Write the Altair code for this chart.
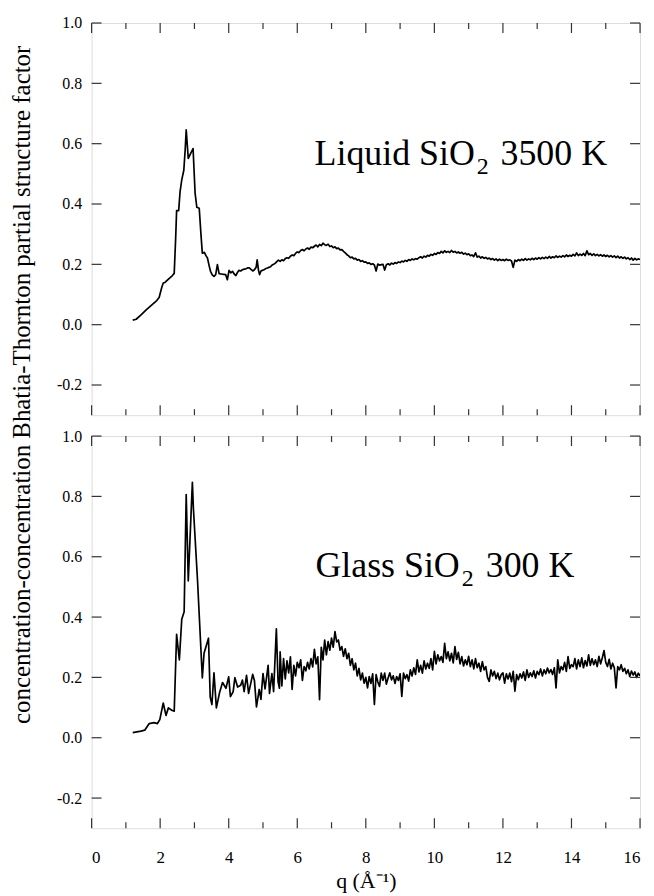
import altair as alt
import pandas as pd

SERIF = "Liberation Serif, Times New Roman, Times, serif"

# ---------------- data ----------------
# Liquid SiO2 3500 K : low-q part (irregular sampling)
Q_LIQ_HEAD = [1.20, 1.30, 1.45, 1.60, 1.75, 1.90, 1.97, 2.05, 2.09, 2.14, 2.25, 2.35, 2.41, 2.45,
              2.48, 2.54, 2.58, 2.63, 2.69, 2.73, 2.76, 2.82, 2.88, 2.96, 3.02, 3.07, 3.14, 3.19,
              3.23, 3.29, 3.34, 3.38, 3.43, 3.47, 3.52, 3.57, 3.62, 3.67, 3.72, 3.78, 3.85, 3.91,
              3.96, 4.01, 4.06, 4.11, 4.16, 4.21, 4.26, 4.30, 4.35, 4.40, 4.45, 4.50, 4.55, 4.60,
              4.65, 4.70, 4.75, 4.80, 4.83, 4.87, 4.90, 4.94, 4.98, 5.03, 5.08, 5.13, 5.17, 5.22,
              5.27, 5.31, 5.36, 5.41, 5.45]
S_LIQ_HEAD = [0.015, 0.018, 0.033, 0.050, 0.065, 0.080, 0.090, 0.125, 0.138, 0.140, 0.152, 0.162,
              0.170, 0.280, 0.378, 0.378, 0.440, 0.480, 0.512, 0.580, 0.646, 0.551, 0.565, 0.584,
              0.435, 0.389, 0.386, 0.300, 0.237, 0.240, 0.228, 0.221, 0.195, 0.177, 0.165, 0.160,
              0.166, 0.199, 0.169, 0.168, 0.167, 0.166, 0.149, 0.180, 0.172, 0.177, 0.168, 0.163,
              0.174, 0.180, 0.178, 0.182, 0.184, 0.185, 0.188, 0.188, 0.183, 0.178, 0.182, 0.190,
              0.215, 0.180, 0.166, 0.178, 0.180, 0.182, 0.186, 0.188, 0.190, 0.192, 0.198, 0.200,
              0.204, 0.210, 0.214]
# Liquid: q = 5.50 ... 16.00, step 0.05
S_LIQ_TAIL = [
    0.210, 0.215, 0.212, 0.219, 0.222, 0.220, 0.227, 0.231, 0.229, 0.236,
    0.241, 0.239, 0.246, 0.249, 0.245, 0.251, 0.254, 0.250, 0.257, 0.255,
    0.260, 0.264, 0.258, 0.266, 0.262, 0.270, 0.265, 0.263, 0.267, 0.259,
    0.261, 0.255, 0.258, 0.252, 0.254, 0.248, 0.249, 0.243, 0.238, 0.232,
    0.228, 0.222, 0.224, 0.218, 0.220, 0.214, 0.216, 0.210, 0.212, 0.207,
    0.208, 0.203, 0.205, 0.200, 0.202, 0.198, 0.178, 0.201, 0.197, 0.199,
    0.200, 0.181, 0.199, 0.202, 0.198, 0.204, 0.201, 0.206, 0.203, 0.208,
    0.206, 0.211, 0.208, 0.213, 0.210, 0.216, 0.213, 0.218, 0.215, 0.219,
    0.217, 0.222, 0.225, 0.221, 0.227, 0.224, 0.230, 0.227, 0.233, 0.230,
    0.236, 0.233, 0.239, 0.236, 0.243, 0.238, 0.245, 0.240, 0.243, 0.239,
    0.246, 0.240, 0.243, 0.238, 0.241, 0.237, 0.240, 0.234, 0.237, 0.232,
    0.235, 0.229, 0.231, 0.226, 0.238, 0.224, 0.227, 0.221, 0.225, 0.220,
    0.223, 0.218, 0.221, 0.216, 0.219, 0.214, 0.218, 0.212, 0.217, 0.213,
    0.216, 0.212, 0.217, 0.213, 0.215, 0.211, 0.190, 0.214, 0.210, 0.216,
    0.212, 0.217, 0.213, 0.219, 0.214, 0.218, 0.215, 0.220, 0.216, 0.221,
    0.217, 0.222, 0.218, 0.223, 0.219, 0.224, 0.220, 0.226, 0.221, 0.225,
    0.222, 0.228, 0.223, 0.227, 0.224, 0.229, 0.225, 0.231, 0.226, 0.230,
    0.227, 0.233, 0.228, 0.238, 0.229, 0.234, 0.230, 0.236, 0.229, 0.245,
    0.232, 0.236, 0.230, 0.235, 0.229, 0.233, 0.228, 0.232, 0.227, 0.231,
    0.226, 0.230, 0.225, 0.229, 0.224, 0.228, 0.222, 0.227, 0.221, 0.225,
    0.220, 0.224, 0.218, 0.222, 0.216, 0.221, 0.214, 0.220, 0.215, 0.218,
    0.216]

# Glass SiO2 300 K : low-q part (irregular sampling)
Q_GLS_HEAD = [1.20, 1.44, 1.55, 1.68, 1.82, 1.92, 1.99, 2.09, 2.17, 2.24, 2.34, 2.41, 2.48, 2.56,
              2.63, 2.70, 2.76, 2.82, 2.94, 2.97, 3.09, 3.23, 3.28, 3.41, 3.46, 3.51, 3.57, 3.64,
              3.73, 3.82, 3.92, 4.00, 4.05, 4.13, 4.18, 4.26, 4.35, 4.40, 4.45, 4.52, 4.58, 4.70,
              4.75, 4.81, 4.89, 4.94, 5.00, 5.06, 5.15, 5.19, 5.26, 5.31, 5.39, 5.44, 5.48]
S_GLS_HEAD = [0.017, 0.022, 0.025, 0.047, 0.050, 0.047, 0.060, 0.115, 0.074, 0.099, 0.091, 0.088,
              0.343, 0.258, 0.393, 0.418, 0.806, 0.520, 0.847, 0.760, 0.522, 0.198, 0.280, 0.330,
              0.135, 0.110, 0.215, 0.099, 0.148, 0.183, 0.164, 0.202, 0.136, 0.153, 0.199, 0.168,
              0.174, 0.191, 0.153, 0.207, 0.147, 0.210, 0.190, 0.102, 0.160, 0.127, 0.213, 0.162,
              0.240, 0.147, 0.213, 0.153, 0.361, 0.186, 0.164]
# Glass: q = 5.50 ... 16.00, step 0.05
S_GLS_TAIL = [
    0.285, 0.172, 0.262, 0.195, 0.255, 0.215, 0.268, 0.160, 0.240, 0.205,
    0.250, 0.232, 0.258, 0.190, 0.236, 0.222, 0.250, 0.228, 0.262, 0.235,
    0.293, 0.245, 0.268, 0.126, 0.300, 0.258, 0.324, 0.275, 0.319, 0.290,
    0.330, 0.300, 0.352, 0.318, 0.324, 0.290, 0.302, 0.270, 0.295, 0.262,
    0.280, 0.240, 0.262, 0.225, 0.247, 0.205, 0.230, 0.192, 0.214, 0.181,
    0.200, 0.165, 0.203, 0.180, 0.212, 0.110, 0.209, 0.185, 0.170, 0.214,
    0.190, 0.214, 0.178, 0.198, 0.215, 0.192, 0.205, 0.180, 0.203, 0.190,
    0.212, 0.137, 0.214, 0.196, 0.209, 0.188, 0.225, 0.205, 0.232, 0.210,
    0.258, 0.218, 0.240, 0.214, 0.255, 0.228, 0.247, 0.230, 0.262, 0.225,
    0.286, 0.245, 0.275, 0.255, 0.269, 0.250, 0.313, 0.262, 0.285, 0.255,
    0.280, 0.248, 0.302, 0.260, 0.283, 0.245, 0.269, 0.238, 0.258, 0.242,
    0.270, 0.236, 0.258, 0.228, 0.262, 0.232, 0.247, 0.220, 0.252, 0.225,
    0.236, 0.200, 0.187, 0.225, 0.205, 0.220, 0.196, 0.214, 0.192, 0.209,
    0.215, 0.181, 0.212, 0.195, 0.214, 0.186, 0.220, 0.154, 0.209, 0.192,
    0.212, 0.198, 0.218, 0.190, 0.225, 0.200, 0.215, 0.203, 0.222, 0.198,
    0.220, 0.209, 0.228, 0.205, 0.225, 0.212, 0.231, 0.215, 0.226, 0.210,
    0.232, 0.165, 0.258, 0.215, 0.236, 0.225, 0.250, 0.220, 0.269, 0.230,
    0.242, 0.236, 0.262, 0.228, 0.258, 0.236, 0.265, 0.232, 0.256, 0.238,
    0.275, 0.240, 0.262, 0.242, 0.258, 0.236, 0.270, 0.245, 0.265, 0.289,
    0.250, 0.236, 0.260, 0.228, 0.247, 0.232, 0.165, 0.236, 0.225, 0.242,
    0.220, 0.230, 0.212, 0.225, 0.203, 0.221, 0.208, 0.218, 0.200, 0.214,
    0.205]

TAIL_START = 5.50
TAIL_STEP = 0.05

Y_TICKS = [-0.2, 0.0, 0.2, 0.4, 0.6, 0.8, 1.0]
X_MAJOR = [0, 2, 4, 6, 8, 10, 12, 14, 16]
X_MINOR = [1, 3, 5, 7, 9, 11, 13, 15]

Y_TITLE = "concentration-concentration Bhatia-Thornton partial structure factor"
X_TITLE = "q (Å⁻¹)"

# ---------------- layout / style ----------------
W, H = 551, 394
GAP = 21
MAJ, MIN = 10, 6
TICK_COLOR = "#333333"

xs = alt.Scale(domain=[0, 16], nice=False, zero=False)
ys = alt.Scale(domain=[-0.3, 1.0], nice=False, zero=False)


def make_df(qh, sh, st):
    q = list(qh) + [round(TAIL_START + TAIL_STEP * i, 2) for i in range(len(st))]
    s = list(sh) + list(st)
    return pd.DataFrame({"q": q, "s": s})


def tick_layers():
    ydf = pd.DataFrame({"s": Y_TICKS})
    mj = pd.DataFrame({"q": X_MAJOR})
    mn = pd.DataFrame({"q": X_MINOR})
    rule = dict(color=TICK_COLOR, strokeWidth=1.2)
    yenc = alt.Y("s:Q", scale=ys)
    xenc = alt.X("q:Q", scale=xs)
    return [
        alt.Chart(ydf).mark_rule(**rule).encode(y=yenc, x=alt.value(0), x2=alt.value(MAJ)),
        alt.Chart(ydf).mark_rule(**rule).encode(y=yenc, x=alt.value(W - MAJ), x2=alt.value(W)),
        alt.Chart(mj).mark_rule(**rule).encode(x=xenc, y=alt.value(H), y2=alt.value(H - MAJ)),
        alt.Chart(mj).mark_rule(**rule).encode(x=xenc, y=alt.value(0), y2=alt.value(MAJ)),
        alt.Chart(mn).mark_rule(**rule).encode(x=xenc, y=alt.value(H), y2=alt.value(H - MIN)),
        alt.Chart(mn).mark_rule(**rule).encode(x=xenc, y=alt.value(0), y2=alt.value(MIN)),
    ]


def label_layers(main, sub, tail, pos):
    (q1, v1), (q2, v2), (q3, v3) = pos
    t = dict(font=SERIF, color="black", baseline="alphabetic")
    out = []
    for (qq, vv, txt, al, fs) in [(q1, v1, main, "right", 36), (q2, v2, sub, "left", 24),
                                  (q3, v3, tail, "left", 36)]:
        out.append(
            alt.Chart(pd.DataFrame({"q": [qq], "s": [vv], "t": [txt]}))
            .mark_text(align=al, fontSize=fs, **t)
            .encode(x=alt.X("q:Q", scale=xs), y=alt.Y("s:Q", scale=ys), text="t:N")
        )
    return out


LABEL_EXPR = "replace(format(datum.value, '.1f'), '\u2212', '-')"


def panel(df, labels, bottom):
    if bottom:
        xaxis = alt.Axis(values=X_MAJOR, ticks=False, domain=False, grid=False, labelFont=SERIF,
                         labelFontSize=17, labelColor="black", labelPadding=21, title=X_TITLE,
                         titleFont=SERIF, titleFontSize=22, titleFontWeight="normal",
                         titleColor="black", titlePadding=6)
        yaxis = alt.Axis(values=Y_TICKS, ticks=False, domain=False, grid=False, labelFont=SERIF,
                         labelFontSize=16, labelColor="black", labelPadding=10,
                         labelExpr=LABEL_EXPR, title=None)
    else:
        xaxis = alt.Axis(values=X_MAJOR, ticks=False, domain=False, grid=False, labels=False, title=None)
        yaxis = alt.Axis(values=Y_TICKS, ticks=False, domain=False, grid=False, labelFont=SERIF,
                         labelFontSize=16, labelColor="black", labelPadding=10,
                         labelExpr=LABEL_EXPR, title=Y_TITLE, titleFont=SERIF, titleFontSize=25,
                         titleFontWeight="normal", titleColor="black", titleX=-70,
                         titleY=363, titleAlign="center", titleBaseline="middle",
                         titleAngle=270)
    line = alt.Chart(df).mark_line(color="black", strokeWidth=1.7, strokeJoin="round", clip=True).encode(
        x=alt.X("q:Q", scale=xs, axis=xaxis),
        y=alt.Y("s:Q", scale=ys, axis=yaxis),
    )
    return alt.layer(line, *tick_layers(), *labels).properties(width=W, height=H)


liq = make_df(Q_LIQ_HEAD, S_LIQ_HEAD, S_LIQ_TAIL)
gls = make_df(Q_GLS_HEAD, S_GLS_HEAD, S_GLS_TAIL)

top = panel(liq, label_layers("Liquid SiO", "2", "3500 K",
                              [(11.18, 0.529), (11.24, 0.499), (11.93, 0.529)]), bottom=False)
bot = panel(gls, label_layers("Glass SiO", "2", "300 K",
                              [(10.74, 0.532), (10.80, 0.503), (11.50, 0.532)]), bottom=True)

chart = (
    alt.vconcat(top, bot, spacing=GAP, bounds="flush")
    .properties(
        padding={"left": 1, "top": 4, "right": 4, "bottom": 2},
        autosize=alt.AutoSizeParams(type="pad"),
    )
    .configure_view(stroke="black", strokeWidth=1.5)
    .configure_axis(labelFont=SERIF, titleFont=SERIF)
    .configure_text(font=SERIF)
    .configure(background="white")
)

chart.save("out.html", embed_options={"renderer": "svg", "actions": False})
